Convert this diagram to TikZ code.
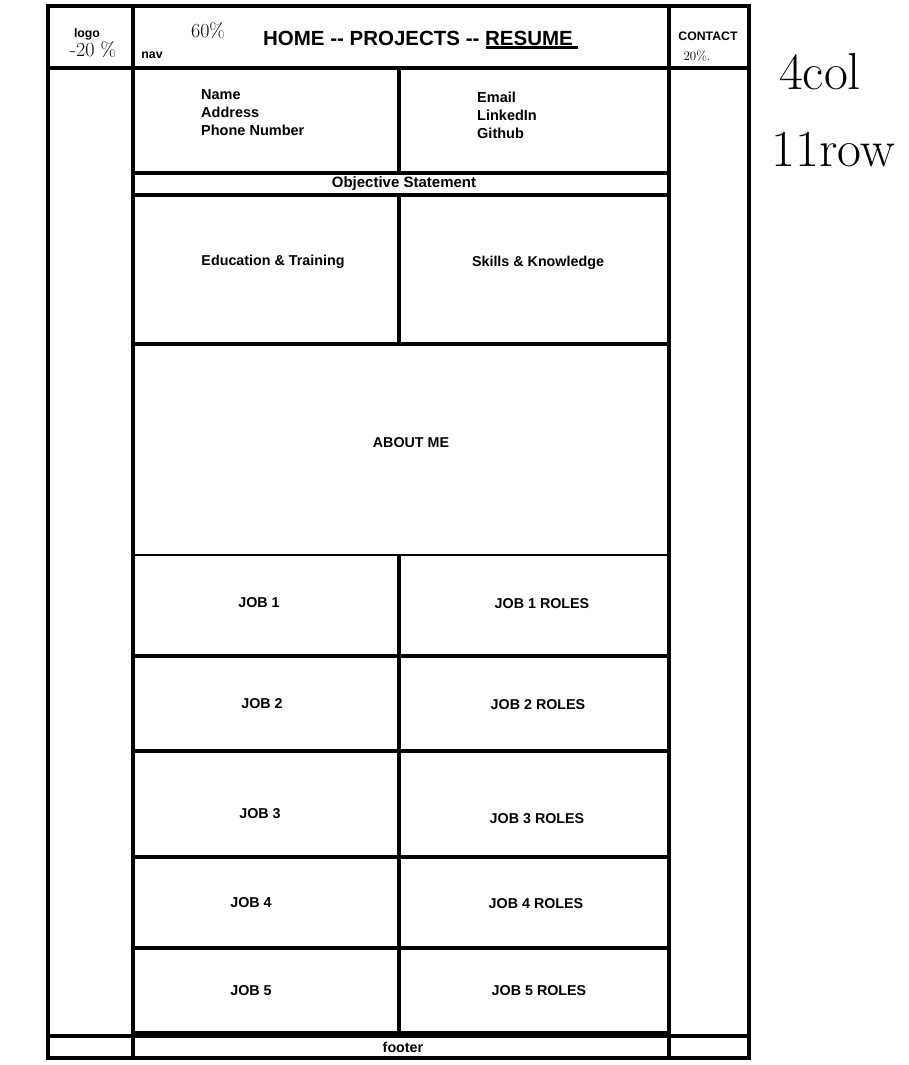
\documentclass[tikz,border=0pt]{standalone}
\usepackage{fontspec}
\setmainfont{Liberation Sans}
\newfontfamily\handfont{Latin Modern Roman}
\begin{document}
\begin{tikzpicture}[x=1pt,y=-1pt,
  wire/.style={line width=4.5pt, line cap=rect},
  thinwire/.style={line width=1.3pt},
  lbl/.style={font=\bfseries\fontsize{14.3}{16}\selectfont, inner sep=0pt},
  lst/.style={font=\bfseries\fontsize{14.5}{18}\selectfont, inner sep=0pt, anchor=north west, align=left},
  small/.style={font=\bfseries\fontsize{12.3}{13}\selectfont, inner sep=0pt},
  hand/.style={font=\handfont, inner sep=0pt}]
\useasboundingbox (0,0) rectangle (909,1065);
\fill[white] (0,0) rectangle (909,1065);
% outer verticals
\foreach \x in {48,133,669,749} \draw[wire] (\x,6) -- (\x,1058);
% header
\draw[wire] (48,6) -- (749,6);
\draw[wire] (48,68) -- (749,68);
% footer
\draw[wire] (48,1036) -- (749,1036);
\draw[wire] (48,1058) -- (749,1058);
% centre rows
\foreach \y in {173,195,344,656,751,857,948,1033} \draw[wire] (133,\y) -- (669,\y);
\draw[thinwire] (133,555) -- (669,555);
% middle divider
\draw[wire] (399,68) -- (399,173);
\draw[wire] (399,195) -- (399,344);
\draw[wire] (399,557) -- (399,1033);
% header texts
\node[small] (logo) at (87,34) {logo};
\node[small] (nav) at (152,55) {nav};
\node[small] (contact) at (708,36) {CONTACT};
\node[font=\bfseries\fontsize{20.5}{22}\selectfont, inner sep=0pt] (menu) at (418,38) {HOME -{}- PROJECTS -{}- RESUME};
\draw[line width=3pt] (486,48) -- (578,48);
\node[hand, font=\handfont\fontsize{20}{20}\selectfont] (h1) at (93,50) {-20 \%};
\node[hand, font=\handfont\fontsize{20}{20}\selectfont] (h2) at (208,31) {60\%};
\node[hand, font=\handfont\fontsize{13}{13}\selectfont] (h3) at (697,56) {20\%.};
\node[hand, font=\handfont\fontsize{52}{52}\selectfont] (h4) at (820,72) {4col};
\node[hand, font=\handfont\fontsize{52}{52}\selectfont] (h5) at (833,150) {11row};
% contact info
\node[lst] (info1) at (201,89) {Name\\Address\\Phone Number};
\node[lst] (info2) at (477,92) {Email\\LinkedIn\\Github};
\node[lbl, font=\bfseries\fontsize{15}{16}\selectfont] (obj) at (404,184) {Objective Statement};
\node[lbl] (edu) at (273,262) {Education \& Training};
\node[lbl] (skill) at (538,263) {Skills \& Knowledge};
\node[lbl] (about) at (411,443) {ABOUT ME};
\node[lbl] (j1) at (259,603) {JOB 1};
\node[lbl] (r1) at (542,604) {JOB 1 ROLES};
\node[lbl] (j2) at (262,704) {JOB 2};
\node[lbl] (r2) at (538,705) {JOB 2 ROLES};
\node[lbl] (j3) at (260,814) {JOB 3};
\node[lbl] (r3) at (537,819) {JOB 3 ROLES};
\node[lbl] (j4) at (251,903) {JOB 4};
\node[lbl] (r4) at (536,904) {JOB 4 ROLES};
\node[lbl] (j5) at (251,991) {JOB 5};
\node[lbl] (r5) at (539,991) {JOB 5 ROLES};
\node[lbl] (foot) at (403,1047) {footer};
\end{tikzpicture}
\end{document}
